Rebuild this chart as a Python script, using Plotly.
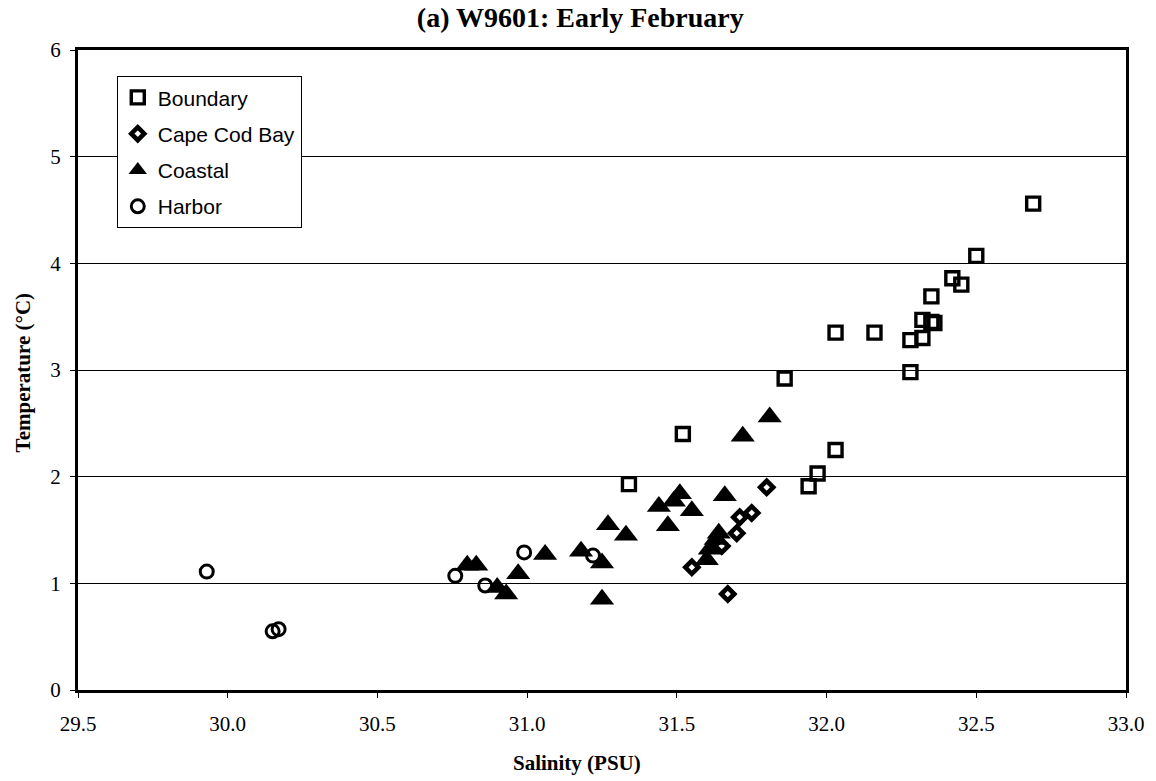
import plotly.graph_objects as go

# Salinity (PSU) and temperature (deg C) by station group, survey W9601
boundary_sal = [32.69, 32.50, 32.42, 32.45, 32.35, 32.32, 32.35, 32.36, 32.03, 32.16,
                32.28, 32.32, 32.28, 31.86, 31.52, 32.03, 31.97, 31.94, 31.34]
boundary_temp = [4.56, 4.07, 3.86, 3.80, 3.69, 3.47, 3.45, 3.44, 3.35, 3.35,
                 3.28, 3.30, 2.98, 2.92, 2.40, 2.25, 2.03, 1.91, 1.93]

capecod_sal = [31.80, 31.75, 31.71, 31.70, 31.65, 31.55, 31.67]
capecod_temp = [1.90, 1.66, 1.62, 1.47, 1.35, 1.15, 0.90]

coastal_sal = [31.81, 31.72, 31.66, 31.51, 31.49, 31.44, 31.55, 31.47, 31.27, 31.33,
               31.18, 31.25, 31.06, 30.97, 30.93, 30.90, 31.25, 30.80, 30.83, 31.64,
               31.63, 31.61, 31.60]
coastal_temp = [2.56, 2.38, 1.82, 1.84, 1.77, 1.72, 1.68, 1.54, 1.55, 1.45,
                1.30, 1.19, 1.27, 1.09, 0.90, 0.96, 0.85, 1.17, 1.17, 1.47,
                1.41, 1.32, 1.22]

harbor_sal = [29.93, 30.15, 30.17, 30.76, 30.86, 30.99, 31.22]
harbor_temp = [1.11, 0.55, 0.57, 1.07, 0.98, 1.29, 1.26]

x_ticks = [29.5, 30.0, 30.5, 31.0, 31.5, 32.0, 32.5, 33.0]
y_ticks = [0, 1, 2, 3, 4, 5, 6]

SERIF = "Liberation Serif, Times New Roman, serif"
SANS = "Liberation Sans, Arial, sans-serif"

fig = go.Figure()

fig.add_trace(go.Scatter(
    x=boundary_sal, y=boundary_temp, mode="markers", name="Boundary",
    legendgroup="b",
    marker=dict(symbol="square-open", size=13, color="black", line=dict(width=3.4)),
))
fig.add_trace(go.Scatter(
    x=capecod_sal, y=capecod_temp, mode="markers", name="Cape Cod Bay",
    legendgroup="c",
    marker=dict(symbol="diamond-open", size=10, color="black", line=dict(width=4.6)),
))
fig.add_trace(go.Scatter(
    x=coastal_sal, y=coastal_temp, mode="markers", name="Coastal",
    legendgroup="k",
    marker=dict(symbol="triangle-up", size=21, color="black", line=dict(width=0)),
))
fig.add_trace(go.Scatter(
    x=harbor_sal, y=harbor_temp, mode="markers", name="Harbor",
    legendgroup="h",
    marker=dict(symbol="circle-open", size=13, color="black", line=dict(width=3)),
))

fig.update_layout(
    width=1156, height=781,
    margin=dict(l=78, r=27, t=50, b=91),
    paper_bgcolor="white", plot_bgcolor="white",
    title=dict(
        text="<b>(a) W9601: Early February</b>",
        x=0.502, xref="container", xanchor="center",
        y=1 - 17 / 781, yref="container", yanchor="middle",
        font=dict(family=SERIF, size=28, color="black"),
    ),
    legend=dict(
        x=0.037, y=0.959, xanchor="left", yanchor="top",
        bgcolor="white", bordercolor="black", borderwidth=1,
        font=dict(family=SANS, size=21, color="black"),
        traceorder="grouped", tracegroupgap=6,
        itemwidth=30,
    ),
    xaxis=dict(
        range=[29.5, 33.0], tickvals=x_ticks,
        ticktext=[f"{v:.1f}" for v in x_ticks],
        showgrid=False, zeroline=False,
        showline=True, linewidth=3, linecolor="black", mirror=True,
        ticks="outside", ticklen=5, tickwidth=1, tickcolor="black",
        ticklabelstandoff=8,
        tickfont=dict(family=SERIF, size=21, color="black"),
    ),
    yaxis=dict(
        range=[0, 6], tickvals=y_ticks,
        showgrid=True, gridcolor="black", gridwidth=1,
        zeroline=False,
        showline=True, linewidth=3, linecolor="black", mirror=True,
        ticks="outside", ticklen=5, tickwidth=1, tickcolor="black",
        ticklabelstandoff=5,
        tickfont=dict(family=SERIF, size=21, color="black"),
    ),
    annotations=[
        dict(text="<b>Salinity (PSU)</b>", xref="paper", yref="paper",
             x=0.4757, y=-0.114, xanchor="center", yanchor="middle",
             showarrow=False, font=dict(family=SERIF, size=21, color="black")),
        dict(text="<b>Temperature (°C)</b>", xref="paper", yref="paper",
             x=-0.0523, y=0.495, xanchor="center", yanchor="middle",
             textangle=-90, showarrow=False,
             font=dict(family=SERIF, size=21, color="black")),
    ],
)

fig.write_html("out.html")
